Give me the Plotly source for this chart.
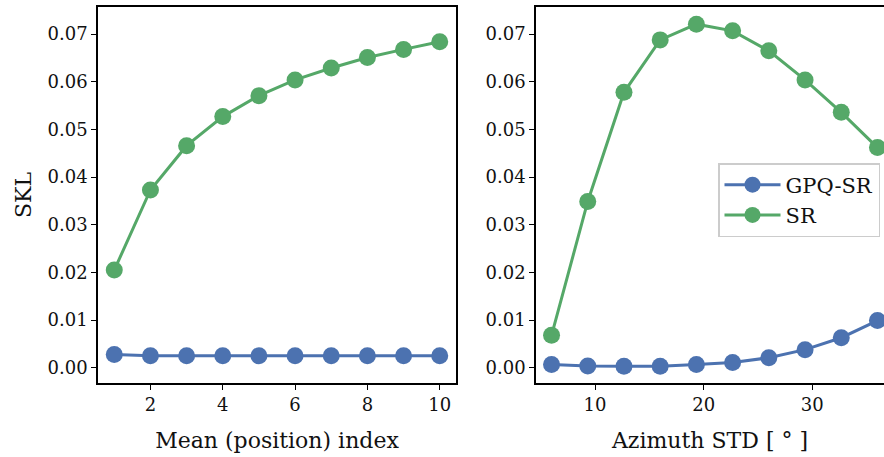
import plotly.graph_objects as go
from plotly.subplots import make_subplots

# Left panel
mean_index = [1, 2, 3, 4, 5, 6, 7, 8, 9, 10]
left_gpq_sr = [0.0028, 0.0025, 0.0025, 0.0025, 0.0025, 0.0025, 0.0025, 0.0025, 0.0025, 0.0025]
left_sr = [0.0205, 0.0373, 0.0466, 0.0527, 0.0571, 0.0604, 0.0629, 0.0651, 0.0668, 0.0684]

# Right panel
azimuth_std = [6.0, 9.333, 12.667, 16.0, 19.333, 22.667, 26.0, 29.333, 32.667, 36.0]
right_gpq_sr = [0.0007, 0.00035, 0.0003, 0.0003, 0.0007, 0.0011, 0.0021, 0.0038, 0.0063, 0.0099]
right_sr = [0.0068, 0.0349, 0.0578, 0.0688, 0.0721, 0.0707, 0.0665, 0.0604, 0.0536, 0.0462]

yticks = [0.0, 0.01, 0.02, 0.03, 0.04, 0.05, 0.06, 0.07]
ytick_text = ["0.00", "0.01", "0.02", "0.03", "0.04", "0.05", "0.06", "0.07"]

BLUE = "#4C72B0"
GREEN = "#55A868"
FONT = "DejaVu Serif"

W, H = 884, 457
T, B = 7, 74
PH = H - T - B

fig = make_subplots(rows=1, cols=2)

def add(x, y, name, color, col, show):
    fig.add_trace(go.Scatter(
        x=x, y=y, mode="lines+markers", name=name,
        line=dict(color=color, width=3),
        marker=dict(color=color, size=17),
        showlegend=show, legendgroup=name,
    ), row=1, col=col)

add(mean_index, left_gpq_sr, "GPQ-SR", BLUE, 1, False)
add(mean_index, left_sr, "SR", GREEN, 1, False)
add(azimuth_std, right_gpq_sr, "GPQ-SR", BLUE, 2, True)
add(azimuth_std, right_sr, "SR", GREEN, 2, True)

axis_common = dict(
    showgrid=False, zeroline=False, ticks="outside", ticklen=5, tickwidth=1.3,
    tickcolor="black", linecolor="black", linewidth=1.6, showline=True,
    tickfont=dict(family=FONT, size=18, color="#111111"),
)

yrange = [-0.0032, 0.0757]

fig.update_layout(
    width=W, height=H,
    margin=dict(l=0, r=0, t=T, b=B),
    paper_bgcolor="white", plot_bgcolor="white",
    font=dict(family=FONT, size=18, color="#111111"),
    xaxis=dict(domain=[98 / W, 456 / W], range=[0.55, 10.45],
               tickvals=[2, 4, 6, 8, 10], mirror=True,
               title=dict(text="Mean (position) index", font=dict(family=FONT, size=22), standoff=18),
               **axis_common),
    yaxis=dict(range=yrange, tickvals=yticks, ticktext=ytick_text, mirror=True,
               title=dict(text="SKL", font=dict(family=FONT, size=22), standoff=10),
               **axis_common),
    xaxis2=dict(domain=[536 / W, 1.0], range=[4.57, 36.6],
                tickvals=[10, 20, 30], mirror=True,
                title=dict(text="Azimuth STD [ ° ]", font=dict(family=FONT, size=22), standoff=18),
                **axis_common),
    yaxis2=dict(range=yrange, tickvals=yticks, ticktext=ytick_text, mirror=False,
                **axis_common),
    legend=dict(
        x=718 / W, y=(H - B - 163) / PH, xanchor="left", yanchor="top",
        bgcolor="rgba(255,255,255,0.85)", bordercolor="#cccccc", borderwidth=1.5,
        font=dict(family=FONT, size=21, color="#111111"),
        itemwidth=56, tracegroupgap=0,
    ),
)

fig.write_html("out.html")
